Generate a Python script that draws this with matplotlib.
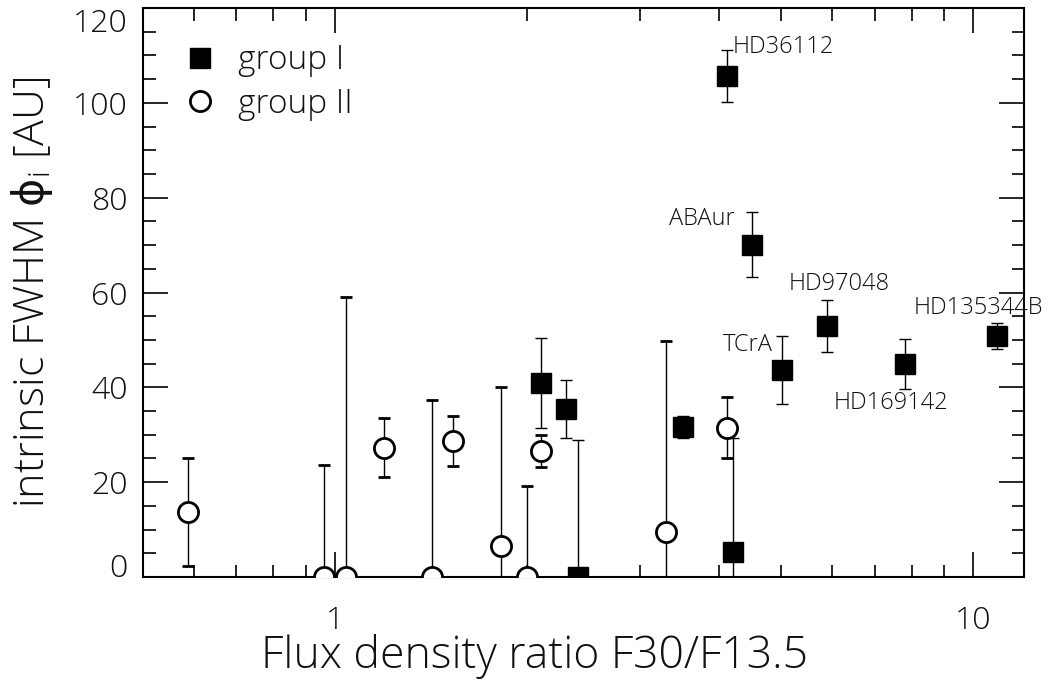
import matplotlib
import matplotlib.pyplot as plt
from matplotlib.lines import Line2D
from matplotlib.ticker import LogLocator, NullFormatter, FixedLocator, FixedFormatter

matplotlib.use("Agg")

# group I (filled squares)
g1_x = [2.10, 2.298, 2.40, 3.504, 4.197, 4.108, 4.50, 5.01, 5.90, 7.81, 10.89]
g1_y = [41.0, 35.5, 0.0, 31.7, 5.3, 105.7, 70.1, 43.7, 52.9, 45.0, 50.8]
g1_err = [9.5, 6.1, 28.8, 2.3, 24.0, 5.5, 6.9, 7.2, 5.5, 5.3, 2.7]

# group II (open circles)
g2_x = [0.589, 0.959, 1.039, 1.191, 1.420, 1.530, 1.822, 1.999, 2.10, 3.30, 4.108]
g2_y = [13.7, 0.0, 0.0, 27.3, 0.0, 28.7, 6.6, 0.0, 26.5, 9.6, 31.5]
g2_err = [11.4, 23.6, 59.0, 6.3, 37.3, 5.3, 33.5, 19.2, 3.4, 40.1, 6.4]

# star labels: name, x, y, alignment
names = ["HD36112", "ABAur", "HD97048", "HD135344B", "TCrA", "HD169142"]
name_x = [4.20, 4.23, 5.13, 8.06, 4.85, 6.04]
name_y = [111.7, 75.4, 61.7, 56.7, 48.9, 36.8]
name_ha = ["left", "right", "left", "left", "right", "left"]

y_ticks = [0, 20, 40, 60, 80, 100, 120]
x_ticks = [1, 10]
x_ticklabels = ["1", "10"]

txt = "#111111"
W = 300
plt.rcParams["font.family"] = ["Open Sans", "DejaVu Sans"]
plt.rcParams["font.weight"] = W
plt.rcParams["axes.labelweight"] = W
plt.rcParams["mathtext.fontset"] = "custom"
plt.rcParams["mathtext.rm"] = "Open Sans:light"
plt.rcParams["mathtext.it"] = "DejaVu Sans"

fig = plt.figure(figsize=(10.64, 6.88), dpi=100)
ax = fig.add_axes([0.1344, 0.1613, 0.828, 0.8271])

ax.errorbar(g2_x, g2_y, yerr=g2_err, fmt="o", ms=14.5, mfc="white", mec="black",
            mew=2.0, ecolor="black", elinewidth=1, capsize=4.2, capthick=1, zorder=3)
ax.errorbar(g1_x, g1_y, yerr=g1_err, fmt="s", ms=15, mfc="black", mec="black",
            ecolor="black", elinewidth=1, capsize=4.2, capthick=1, zorder=4)

for n, x, y, ha in zip(names, name_x, name_y, name_ha):
    ax.text(x, y, n, ha=ha, va="center", fontsize=17, color=txt, fontweight=W)

ax.set_xscale("log")
ax.set_xlim(0.5, 12)
ax.set_ylim(0, 120)
ax.xaxis.set_major_locator(FixedLocator(x_ticks))
ax.xaxis.set_major_formatter(FixedFormatter(x_ticklabels))
ax.xaxis.set_minor_locator(LogLocator(base=10, subs=range(2, 10)))
ax.xaxis.set_minor_formatter(NullFormatter())
ax.set_yticks(y_ticks)
ax.set_yticks([v for v in range(0, 121, 5) if v % 20], minor=True)

ax.tick_params(which="both", direction="in", top=True, right=True, width=1.2)
ax.tick_params(which="major", length=18, labelsize=23, labelcolor=txt)
ax.tick_params(axis="y", which="major", pad=11)
ax.tick_params(axis="x", which="major", pad=20)
ax.tick_params(which="minor", length=9)
for s in ax.spines.values():
    s.set_linewidth(1.5)

ylabs = ax.get_yticklabels()
ylabs[0].set_va("baseline")
ylabs[-1].set_va("top")
for lab in ax.get_xticklabels() + ylabs:
    lab.set_fontweight(W)

ax.set_xlabel("Flux density ratio F30/F13.5", fontsize=32, color=txt, fontweight=W)
ax.xaxis.set_label_coords(0.445, -0.10)
ax.set_ylabel(r"intrinsic FWHM $\phi_\mathrm{i}$ [AU]", fontsize=31, color=txt, fontweight=W)
ax.yaxis.set_label_coords(-0.10, 0.5)

handles = [
    Line2D([], [], ls="none", marker="s", ms=15, mfc="black", mec="black"),
    Line2D([], [], ls="none", marker="o", ms=14.5, mfc="white", mec="black", mew=2.0),
]
leg = ax.legend(handles, ["group I", "group II"], loc="upper left", bbox_to_anchor=(0.0, 0.99),
                frameon=False, handletextpad=0.35, labelspacing=0.3, handlelength=1.6,
                prop={"size": 24, "weight": W})
for t in leg.get_texts():
    t.set_color(txt)

fig.savefig("out.png", dpi=100)
